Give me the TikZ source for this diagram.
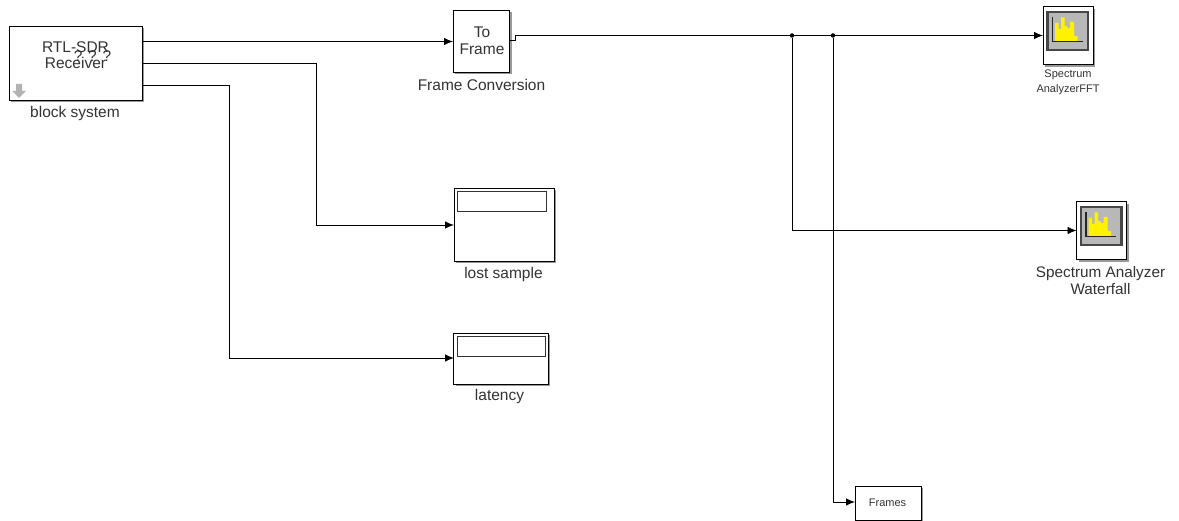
\documentclass[tikz,border=0pt]{standalone}
\usepackage{fontspec}
\setmainfont{Liberation Sans}
\usetikzlibrary{arrows.meta,shadows,positioning}
\definecolor{txt}{HTML}{333333}
\newcommand{\blockfont}{\fontsize{15.5}{17}\selectfont}
\newcommand{\specicon}[2]{%
 \begin{scope}[shift={(#1,#2)}]
  \draw[draw=black!72,line width=2.2pt,fill=black!28] (1047.5,12) rectangle (1088,50);
  \fill[yellow] (1055,41.5) -- (1055,23) -- (1058.5,23) -- (1058.5,29) -- (1061,29) -- (1061,17.5) -- (1064.5,17.5) -- (1064.5,26) -- (1067,26) -- (1067,28) -- (1070,28) -- (1070,22) -- (1074,22) -- (1074,36) -- (1077.5,36) -- (1077.5,41.5) -- cycle;
  \draw[black!85,line width=1.2pt] (1052.5,17) -- (1052.5,41.5) -- (1082.5,41.5);
 \end{scope}}
\tikzset{
 x=1pt,y=-1pt,
 blockbox/.style={draw=black,fill=white,line width=0.9pt,inner sep=0pt,
  drop shadow={shadow xshift=2.2pt,shadow yshift=-2.2pt,fill=black,opacity=.4}},
 scopebar/.style={draw=black!80,fill=white,line width=0.9pt,inner sep=0pt},
 blocklabel/.style={text=txt,font=\blockfont,align=center,inner sep=0pt},
 smalllabel/.style={text=txt,font=\fontsize{11}{15}\selectfont,align=center,inner sep=0pt},
 wire/.style={draw=black,line width=0.9pt,-{Latex[length=9pt,width=7.5pt]}},
 plainwire/.style={draw=black,line width=0.9pt},
 junction/.style={circle,fill=black,inner sep=0pt,minimum size=4.5pt},
}
\begin{document}
\begin{tikzpicture}
\useasboundingbox (0,0) rectangle (1179,521);
\fill[white] (0,0) rectangle (1179,521);

\node[blockbox,minimum width=133pt,minimum height=74pt] (rtl) at (75.5,63) {};
\node[blocklabel,font=\fontsize{15.5}{16.5}\selectfont] (rtltext) at (75.5,55) {RTL-SDR\\Receiver};
\node[blocklabel] (qm) at (92.5,56.5) {? ? ?};
\fill[black!30] (16,84) -- (22,84) -- (22,91) -- (26,91) -- (19,98) -- (12.5,91) -- (16,91) -- cycle;
\node[blocklabel] (rtlname) at (75,113.5) {block system};

\node[blockbox,minimum width=56.5pt,minimum height=62pt] (toframe) at (481.5,41) {};
\node[blocklabel,font=\fontsize{15.5}{16.5}\selectfont] (toframetext) at (482,40.5) {To\\Frame};
\node[blocklabel] (toframename) at (481.5,84.5) {Frame Conversion};

\node[blockbox,minimum width=100pt,minimum height=73pt] (lost) at (504,224.5) {};
\node[scopebar,minimum width=89pt,minimum height=20pt] (lostbar) at (502,201.5) {};
\node[blocklabel] (lostname) at (503.5,274) {lost sample};

\node[blockbox,minimum width=94.5pt,minimum height=51pt] (lat) at (501,358.5) {};
\node[scopebar,minimum width=88pt,minimum height=20pt] (latbar) at (501,346) {};
\node[blocklabel] (latname) at (499.5,396.5) {latency};

\node[blockbox,minimum width=50pt,minimum height=58pt] (fft) at (1068,35.5) {};
\specicon{0}{0}
\node[smalllabel] (fftname) at (1068,82) {Spectrum\\AnalyzerFFT};

\node[blockbox,minimum width=50pt,minimum height=58pt] (wf) at (1101.5,230.5) {};
\specicon{33.5}{195}
\node[blocklabel,font=\fontsize{15.3}{17}\selectfont] (wfname) at (1100.5,280.5) {Spectrum Analyzer\\Waterfall};

\node[blockbox,minimum width=66pt,minimum height=34pt] (frames) at (888,503) {};
\node[smalllabel] (framestext) at (887.5,502.5) {Frames};

\node[junction] (j1) at (792,35.5) {};
\node[junction] (j2) at (833,35.5) {};
\coordinate (out1) at (142,41.5);
\coordinate (out2) at (142,63.5);
\coordinate (out3) at (142,85.5);
\coordinate (in1) at (453,41.5);
\coordinate (in2) at (454,225);
\coordinate (in3) at (454,358);
\coordinate (tfout) at (510,40.5);
\coordinate (fftin) at (1043,35.5);
\coordinate (wfin) at (1076.5,230.5);
\coordinate (frin) at (855,502);

\draw[wire] (out1) -- (in1);
\draw[wire] (out2) -- (316,63.5) -- (316,225) -- (in2);
\draw[wire] (out3) -- (229.5,85.5) -- (229.5,358) -- (in3);
\draw[plainwire] (tfout) -- (515,40.5) -- (515,35.5) -- (j1);
\draw[plainwire] (j1) -- (j2);
\draw[wire] (j2) -- (fftin);
\draw[wire] (j1) -- (792,230.5) -- (wfin);
\draw[wire] (j2) -- (833,502) -- (frin);
\end{tikzpicture}
\end{document}
